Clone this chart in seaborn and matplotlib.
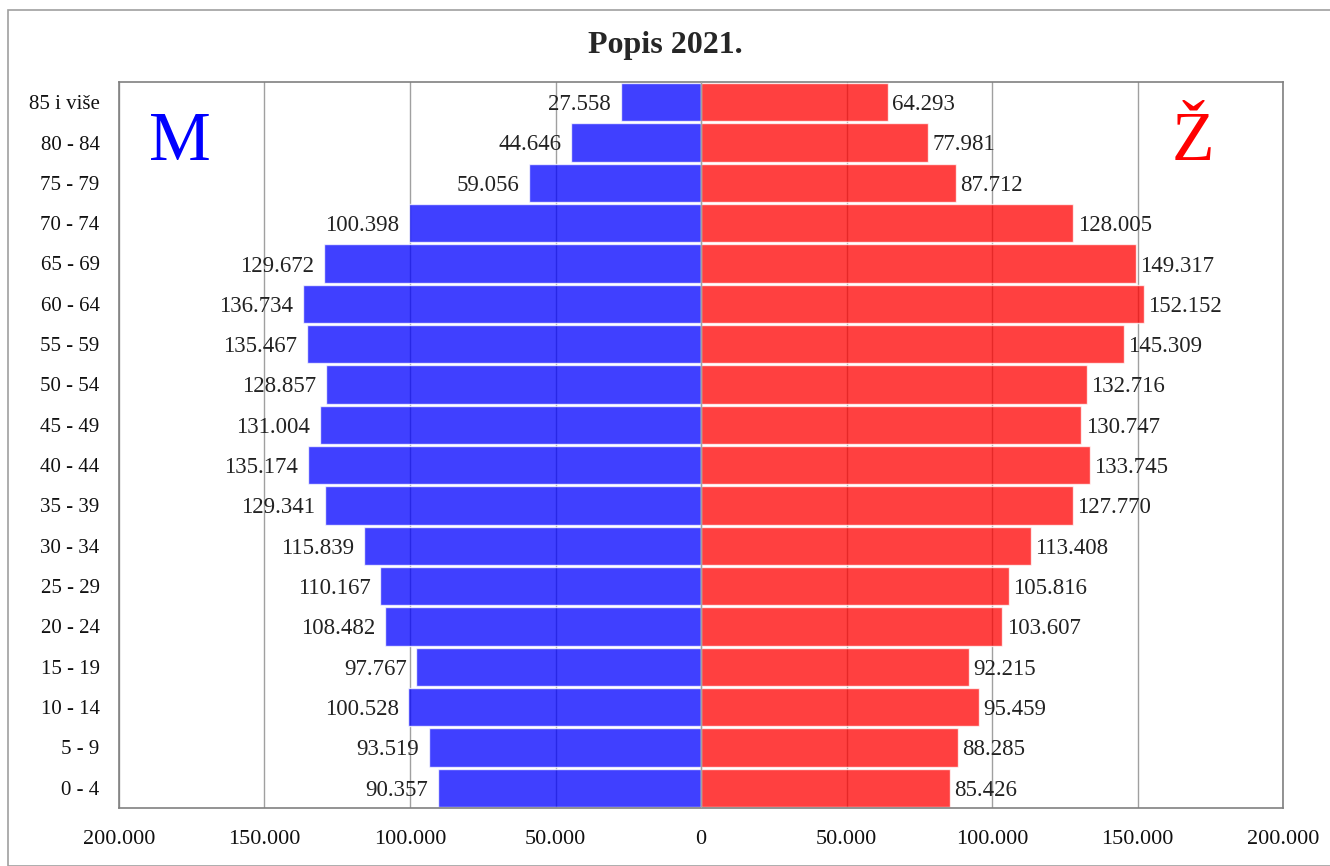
import pandas as pd
import matplotlib
matplotlib.use("Agg")
import matplotlib.pyplot as plt
from matplotlib.patches import Rectangle
from matplotlib.ticker import FuncFormatter
import seaborn as sns

# age groups, top to bottom
ages = ["85 i više", "80 - 84", "75 - 79", "70 - 74", "65 - 69", "60 - 64",
        "55 - 59", "50 - 54", "45 - 49", "40 - 44", "35 - 39", "30 - 34",
        "25 - 29", "20 - 24", "15 - 19", "10 - 14", "5 - 9", "0 - 4"]
muski = [27558, 44646, 59056, 100398, 129672, 136734, 135467, 128857, 131004,
         135174, 129341, 115839, 110167, 108482, 97767, 100528, 93519, 90357]
zenski = [64293, 77981, 87712, 128005, 149317, 152152, 145309, 132716, 130747,
          133745, 127770, 113408, 105816, 103607, 92215, 95459, 88285, 85426]

df = pd.DataFrame({"age": ages, "M": [-v for v in muski], "Z": zenski})


def fmt(v):
    return f"{int(abs(v)):,}".replace(",", ".")


sns.set_style("white")
plt.rcParams["font.family"] = ["Liberation Serif", "DejaVu Serif"]

fig = plt.figure(figsize=(13.3, 8.66), dpi=100)
ax = fig.add_axes([119 / 1330, 1 - 808 / 866, (1283 - 119) / 1330, (808 - 82) / 866])

# outer chart border
fig.patches.append(Rectangle((8 / 1330, 0), 1.1, 1 - 10 / 866, transform=fig.transFigure,
                             fill=False, edgecolor="#a0a0a0", linewidth=1.2, zorder=0))

sns.barplot(data=df, y="age", x="M", order=ages, color="blue", alpha=0.75,
            width=0.95, saturation=1, ax=ax, zorder=2)
sns.barplot(data=df, y="age", x="Z", order=ages, color="red", alpha=0.75,
            width=0.95, saturation=1, ax=ax, zorder=2)

for i, (m, z) in enumerate(zip(muski, zenski)):
    ax.annotate(fmt(m), (-m, i), xytext=(-7, 0), textcoords="offset points",
                ha="right", va="center_baseline", fontsize=16.5, color="#222222")
    ax.annotate(fmt(z), (z, i), xytext=(3, 0), textcoords="offset points",
                ha="left", va="center_baseline", fontsize=16.5, color="#222222")

ax.set_xlim(-200000, 200000)
ax.set_ylim(len(ages) - 0.5, -0.5)
ax.set_xticks(range(-200000, 200001, 50000))
ax.xaxis.set_major_formatter(FuncFormatter(lambda v, p: fmt(v)))
ax.grid(axis="x", color="#a0a0a0", linewidth=1)
ax.grid(axis="y", visible=False)
ax.set_axisbelow(True)
ax.axvline(0, color="#a0a0a0", linewidth=1, zorder=3)
ax.tick_params(axis="both", length=0, colors="#111111")
ax.tick_params(axis="x", pad=16, labelsize=16)
ax.tick_params(axis="y", pad=14, labelsize=15)
ax.set_xlabel("")
ax.set_ylabel("")
for s in ax.spines.values():
    s.set_color("#808080")
    s.set_linewidth(1.2)

fig.text(180 / 1330, 1 - 143 / 866, "M", color="blue", fontsize=50,
         ha="center", va="center")
fig.text(1193 / 1330, 1 - 143 / 866, "Ž", color="red", fontsize=50,
         ha="center", va="center")
fig.text(0.5, 1 - 45 / 866, "Popis 2021.", fontsize=23, fontweight="bold",
         ha="center", va="center")

fig.savefig("out.png", dpi=100)
